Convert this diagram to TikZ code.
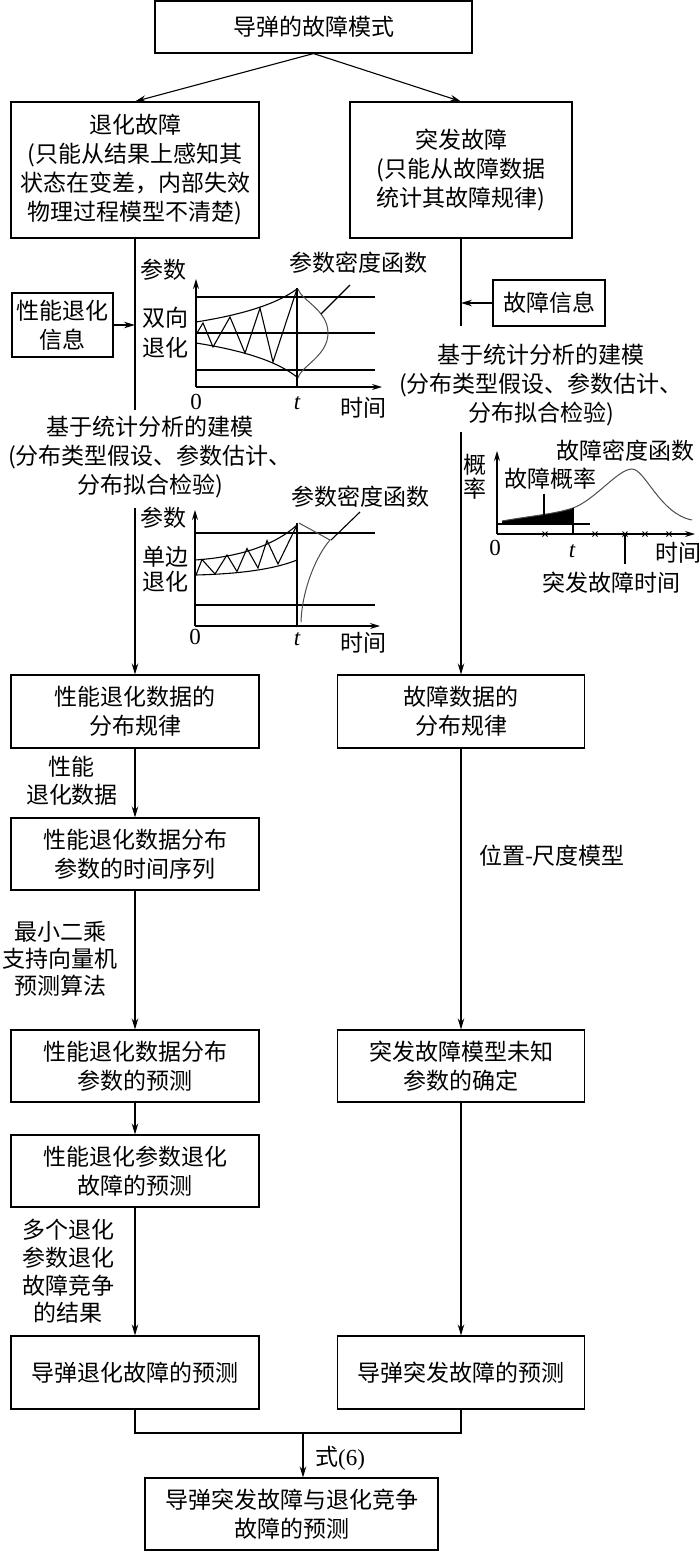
\documentclass[tikz,border=0pt]{standalone}
\usepackage{fontspec}
\setmainfont{Noto Sans CJK SC}
\newfontfamily\lat{Liberation Serif}
\usetikzlibrary{arrows.meta}
\newcommand\myfs{\fontsize{23}{29}\selectfont}
\tikzset{
  box/.style={draw, line width=1.1pt, inner sep=0pt, align=center, font=\myfs},
  arr/.style={line width=1.1pt, -{Stealth[length=11pt,width=6.5pt]}},
  axarr/.style={line width=1.1pt, -{Stealth[length=10pt,width=6pt]}},
  ln/.style={line width=1.1pt},
  thin1/.style={line width=1.1pt},
  grayc/.style={line width=1pt, black!70},
  lbl/.style={inner sep=0pt, align=center, font=\myfs},
  num/.style={inner sep=0pt, font=\lat\fontsize{23}{29}\selectfont},
  tnum/.style={inner sep=0pt, font=\lat\itshape\fontsize{23}{29}\selectfont},
}
\begin{document}
\begin{tikzpicture}[x=1pt,y=-1pt]
\useasboundingbox (0,0) rectangle (700,1551);
% ---- boxes
\node[box,minimum width=317pt,minimum height=52pt] (top) at (313.5,27) {导弹的故障模式};
\node[box,minimum width=248pt,minimum height=136pt] (tuihua) at (135,170) {退化故障\\(只能从结果上感知其\\状态在变差，内部失效\\物理过程模型不清楚)};
\node[box,minimum width=222pt,minimum height=136pt] (tufa) at (461,170) {突发故障\\(只能从故障数据\\统计其故障规律)};
\node[box,minimum width=101pt,minimum height=64pt] (xinxi) at (62.5,325) {性能退化\\信息};
\node[box,minimum width=112pt,minimum height=46pt] (gzxx) at (549,303) {故障信息};
\node[box,minimum width=248pt,minimum height=73pt] (b1) at (135,711.5) {性能退化数据的\\分布规律};
\node[box,minimum width=247pt,minimum height=73pt] (b1r) at (461,711.5) {故障数据的\\分布规律};
\node[box,minimum width=248pt,minimum height=72pt] (b2) at (135,854) {性能退化数据分布\\参数的时间序列};
\node[box,minimum width=248pt,minimum height=72pt] (b3) at (135,1066) {性能退化数据分布\\参数的预测};
\node[box,minimum width=247pt,minimum height=72pt] (b3r) at (461,1066) {突发故障模型未知\\参数的确定};
\node[box,minimum width=248pt,minimum height=72pt] (b4) at (135,1171) {性能退化参数退化\\故障的预测};
\node[box,minimum width=248pt,minimum height=73pt] (b5) at (135,1372.5) {导弹退化故障的预测};
\node[box,minimum width=247pt,minimum height=73pt] (b5r) at (461,1372.5) {导弹突发故障的预测};
\node[box,minimum width=293pt,minimum height=72pt] (final) at (291.5,1514) {导弹突发故障与退化竞争\\故障的预测};
% ---- text blocks
\node[lbl] (ltext) at (150,457.5) {基于统计分析的建模\\(分布类型假设、参数估计、\\分布拟合检验)};
\node[lbl] (rtext) at (541,385) {基于统计分析的建模\\(分布类型假设、参数估计、\\分布拟合检验)};
\node[lbl,font=\fontsize{23}{28}\selectfont] (lab1) at (72,781) {性能\\退化数据};
\node[lbl,font=\fontsize{23}{27}\selectfont] (lab2) at (60,958.5) {最小二乘\\支持向量机\\预测算法};
\node[lbl,font=\fontsize{23}{27.7}\selectfont] (lab3) at (68,1271.5) {多个退化\\参数退化\\故障竞争\\的结果};
\node[lbl] (lab4) at (552,856) {位置-尺度模型};
\node[lbl,anchor=west] (lab5) at (315,1458) {式{\lat(6)}};
% ---- connectors
\draw[arr] (top.south) -- (tuihua.north);
\draw[arr] (top.south) -- (tufa.north);
\coordinate (L1) at (135,410);
\coordinate (L1a) at (135,325);
\coordinate (L2) at (135,508);
\draw[ln] (tuihua.south) -- (L1);
\draw[arr] (xinxi.east) -- (L1a);
\draw[arr] (L2) -- (b1.north);
\coordinate (R1) at (461,326);
\coordinate (R1a) at (461,303);
\coordinate (R2) at (461,432);
\draw[ln] (tufa.south) -- (R1);
\draw[arr] (gzxx.west) -- (R1a);
\draw[arr] (R2) -- (b1r.north);
\draw[arr] (b1.south) -- (b2.north);
\draw[arr] (b2.south) -- (b3.north);
\draw[arr] (b3.south) -- (b4.north);
\draw[arr] (b4.south) -- (b5.north);
\draw[arr] (b1r.south) -- (b3r.north);
\draw[arr] (b3r.south) -- (b5r.north);
\coordinate (J) at (303,1433);
\draw[ln] (b5.south) |- (J) -| (b5r.south);
\draw[arr] (J) -- (J |- final.north);
% ---- chart 1 (two-sided degradation)
\draw[axarr] (196,387) -- (196,279);
\draw[axarr] (196,387) -- (382,387);
\draw[thin1] (196,297) -- (375,297) (196,333) -- (375,333) (196,370) -- (375,370);
\draw[thin1] (297,288) -- (297,387);
\draw[thin1] (196,322) .. controls (240,315) and (275,305) .. (297,289);
\draw[thin1] (196,343) .. controls (240,350) and (275,360) .. (297,377);
\draw[thin1] (197,333) -- (203,323) -- (213,347) -- (230,317) -- (245,353) -- (260,308) -- (273,362) -- (297,289);
\draw[grayc] (298,289) .. controls (301,300) and (328,310) .. (328,333) .. controls (328,356) and (301,366) .. (298,378);
\draw[thin1] (321,314) -- (350,285);
\node[lbl] (c1a) at (163,270) {参数};
\node[lbl] (c1b) at (165,318) {双向};
\node[lbl] (c1c) at (165,348) {退化};
\node[num] (c1d) at (196,402) {0};
\node[tnum] (c1e) at (297,403) {t};
\node[lbl] (c1f) at (363,408) {时间};
\node[lbl] (c1g) at (358,263) {参数密度函数};
% ---- chart 2 (one-sided degradation)
\draw[axarr] (195,626) -- (195,510);
\draw[axarr] (195,626) -- (380,626);
\draw[thin1] (195,533) -- (375,533) (195,605) -- (375,605);
\draw[thin1] (297,523) -- (297,626);
\draw[thin1] (195,560) .. controls (240,557) and (275,545) .. (297,525);
\draw[thin1] (195,575) .. controls (240,574) and (275,569) .. (297,560);
\draw[thin1] (196,575) -- (202,559.5) -- (215,574) -- (227,555) -- (237,571.5) -- (247,548.5) -- (258,568) -- (267,540.5) -- (278,564) -- (297,525);
\draw[grayc] (299,523) -- (330,540) .. controls (316,556) and (302,590) .. (301,622);
\draw[thin1] (331,540) -- (360,512);
\node[lbl] (c2a) at (163,518) {参数};
\node[lbl] (c2b) at (165,557) {单边};
\node[lbl] (c2c) at (165,582) {退化};
\node[num] (c2d) at (195,637) {0};
\node[tnum] (c2e) at (297,639) {t};
\node[lbl] (c2f) at (363,643) {时间};
\node[lbl] (c2g) at (360,497) {参数密度函数};
% ---- chart 3 (sudden failure)
\draw[axarr] (497,534) -- (497,451);
\draw[axarr] (497,534) -- (695,534);
\draw[thin1] (497,524) -- (590,524);
\fill (502,524) -- (502,521) .. controls (530,516) and (555,514) .. (573,508) -- (573,524) -- cycle;
\draw[grayc] (502,521) .. controls (530,516) and (555,514) .. (573,508) .. controls (595,500) and (618,469) .. (632,469) .. controls (645,469) and (660,514) .. (692,520);
\draw[thin1] (573,508) -- (573,534);
\foreach \x in {545,595,625,645,669} {\draw[line width=1pt] (\x-2.5,531.5) -- (\x+2.5,536.5) (\x-2.5,536.5) -- (\x+2.5,531.5);}
\draw[thin1] (544,494) -- (544,517);
\draw[thin1] (625,534) -- (625,564);
\node[lbl] (c3a) at (475,465) {概};
\node[lbl] (c3b) at (475,489) {率};
\node[lbl] (c3c) at (550,479) {故障概率};
\node[lbl] (c3d) at (625,451) {故障密度函数};
\node[num] (c3e) at (495,548) {0};
\node[tnum] (c3f) at (572,551) {t};
\node[lbl] (c3g) at (678,553) {时间};
\node[lbl] (c3h) at (611,583) {突发故障时间};
\end{tikzpicture}
\end{document}
